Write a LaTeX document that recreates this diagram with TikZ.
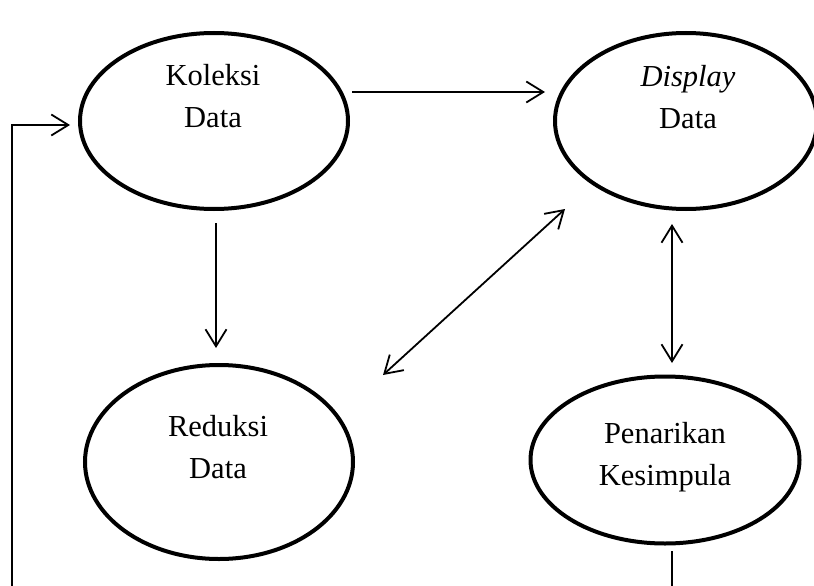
\documentclass[tikz,border=0pt]{standalone}
\usepackage{fontspec}
\setmainfont{Liberation Serif}
\usetikzlibrary{shapes.geometric,arrows.meta}
\begin{document}
\begin{tikzpicture}[x=1pt,y=-1pt,
  proc/.style={ellipse,draw,line width=4pt,inner sep=0pt},
  lbl/.style={align=center,inner sep=0pt,font=\fontsize{30.5}{42}\selectfont},
  conn/.style={line width=1.8pt},
  tipped/.style={conn,-{Straight Barb[length=17pt,width=21pt,line width=1.8pt]}},
  both/.style={conn,{Straight Barb[length=17pt,width=21pt,line width=1.8pt]}-{Straight Barb[length=17pt,width=21pt,line width=1.8pt]}}]
\useasboundingbox (0,0) rectangle (814,586);
% ellipses
\node[proc,minimum width=268pt,minimum height=176pt] (kol) at (214,121) {};
\node[proc,minimum width=262pt,minimum height=176pt] (dis) at (686,121) {};
\node[proc,minimum width=268pt,minimum height=194pt] (red) at (219,462) {};
\node[proc,minimum width=269pt,minimum height=167pt] (pen) at (665,460) {};
% labels
\node[lbl] (kolt) at (213,96) {Koleksi\\Data};
\node[lbl] (dist) at (688,97) {\textit{Display}\\Data};
\node[lbl] (redt) at (218,447) {Reduksi\\Data};
\node[lbl] (pent) at (665,457) {Penarikan\\Kesimpula};
% connector end points
\coordinate (a1) at (352,92);
\coordinate (a2) at (545,92);
\coordinate (b1) at (216,223);
\coordinate (b2) at (216,348);
\coordinate (c1) at (383,375);
\coordinate (c2) at (565,209);
\coordinate (d1) at (672,224);
\coordinate (d2) at (672,363);
\coordinate (e1) at (672,551);
\coordinate (e2) at (672,586);
\coordinate (f1) at (12,586);
\coordinate (f2) at (12,125);
\coordinate (f3) at (70,125);
% connectors
\draw[tipped] (a1) -- (a2);
\draw[tipped] (b1) -- (b2);
\draw[both] (c1) -- (c2);
\draw[both] (d1) -- (d2);
\draw[conn] (e1) -- (e2);
\draw[tipped] (f1) -- (f2) -- (f3);
\end{tikzpicture}
\end{document}
